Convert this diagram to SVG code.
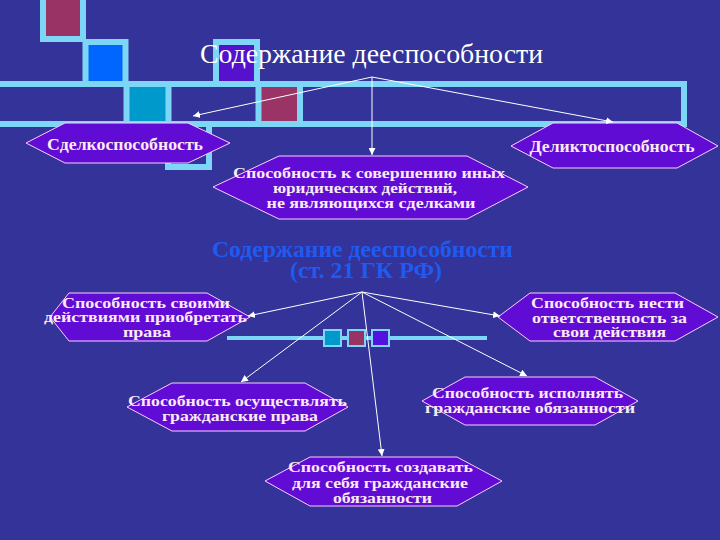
<svg xmlns="http://www.w3.org/2000/svg" width="720" height="540" viewBox="0 0 720 540">
  <defs>
    <style>
      .frame { stroke: #7dd6f5; stroke-width: 6; }
      .hex { fill: #600cd4; stroke: #ffccff; stroke-width: 1; }
      .lbl { font-family: "Liberation Serif", "DejaVu Serif", serif; font-weight: bold; font-size: 15px; fill: #fbe9f5; text-anchor: middle; }
      .lbl1 { font-size: 17px; }
      .conn { stroke: #ffffff; stroke-width: 1; fill: none; marker-end: url(#arr); }
    </style>
    <marker id="arr" viewBox="0 0 10 10" refX="10" refY="5" markerWidth="7" markerHeight="7" markerUnits="userSpaceOnUse" orient="auto">
      <path d="M0,0 L10,5 L0,10 z" fill="#ffffff"/>
    </marker>
  </defs>
  <rect x="0" y="0" width="720" height="540" fill="#333399"/>

  <g id="decor">
    <rect class="frame" x="43" y="-10" width="40" height="49" fill="#993366"/>
    <rect class="frame" x="85.5" y="42" width="40" height="42" fill="#0066ff"/>
    <rect class="frame" x="216" y="42" width="41" height="42" fill="#5511cc"/>
    <rect class="frame" x="-3" y="84" width="687" height="40" fill="none"/>
    <rect class="frame" x="126.5" y="84" width="42" height="40" fill="#0099cc"/>
    <rect class="frame" x="258.5" y="84" width="41.5" height="40" fill="#9a3366"/>
    <rect class="frame" x="168" y="124" width="41" height="43" fill="none"/>
    <line x1="227" y1="338" x2="487" y2="338" stroke="#7dd6f5" stroke-width="4"/>
    <rect x="324" y="330" width="17" height="16" fill="#0099cc" stroke="#7dd6f5" stroke-width="2"/>
    <rect x="348" y="330" width="17" height="16" fill="#993366" stroke="#7dd6f5" stroke-width="2"/>
    <rect x="372" y="330" width="17" height="16" fill="#5511dd" stroke="#7dd6f5" stroke-width="2"/>
  </g>

  <g id="title">
    <text x="371.5" y="63" font-family="Liberation Serif, DejaVu Serif, serif" font-size="28" fill="#ffffff" text-anchor="middle" textLength="343" lengthAdjust="spacingAndGlyphs">Содержание дееспособности</text>
  </g>

  <g id="subtitle">
    <text x="362.5" y="257" font-family="Liberation Serif, DejaVu Serif, serif" font-weight="bold" font-size="23" fill="#1f5bf0" text-anchor="middle" textLength="301" lengthAdjust="spacingAndGlyphs">Содержание дееспособности</text>
    <text x="366" y="278" font-family="Liberation Serif, DejaVu Serif, serif" font-weight="bold" font-size="23" fill="#1f5bf0" text-anchor="middle" textLength="152" lengthAdjust="spacingAndGlyphs">(ст. 21 ГК РФ)</text>
  </g>

  <g id="node-sdelko">
    <polygon class="hex" points="26,143 65,123 188,123 230,143 188,163 65,163"/>
    <text class="lbl lbl1" x="125" y="150" textLength="156" lengthAdjust="spacingAndGlyphs">Сделкоспособность</text>
  </g>
  <g id="node-delikto">
    <polygon class="hex" points="511,146 553,123 677,123 718,146 677,168 553,168"/>
    <text class="lbl lbl1" x="612" y="152" textLength="165" lengthAdjust="spacingAndGlyphs">Деликтоспособность</text>
  </g>
  <g id="node-inye">
    <polygon class="hex" points="213,187 279,156 467,156 528,187 467,219 279,219"/>
    <text class="lbl" x="369" y="178" textLength="272" lengthAdjust="spacingAndGlyphs">Способность к совершению иных</text>
    <text class="lbl" x="365" y="193" textLength="184" lengthAdjust="spacingAndGlyphs">юридических действий,</text>
    <text class="lbl" x="371" y="208" textLength="209" lengthAdjust="spacingAndGlyphs">не являющихся сделками</text>
  </g>
  <g id="node-priobretat">
    <polygon class="hex" points="50,317 69,293 207,293 250,317 207,341 69,341"/>
    <text class="lbl" x="146" y="308" textLength="168" lengthAdjust="spacingAndGlyphs">Способность своими</text>
    <text class="lbl" x="145.5" y="322" textLength="203" lengthAdjust="spacingAndGlyphs">действиями приобретать</text>
    <text class="lbl" x="147" y="337" textLength="48" lengthAdjust="spacingAndGlyphs">права</text>
  </g>
  <g id="node-nesti">
    <polygon class="hex" points="498,317 530,293 675,293 718,317 675,341 530,341"/>
    <text class="lbl" x="607.5" y="308" textLength="153" lengthAdjust="spacingAndGlyphs">Способность нести</text>
    <text class="lbl" x="609.5" y="323" textLength="155" lengthAdjust="spacingAndGlyphs">ответственность за</text>
    <text class="lbl" x="609.5" y="337" textLength="113" lengthAdjust="spacingAndGlyphs">свои действия</text>
  </g>
  <g id="node-osush">
    <polygon class="hex" points="127,407 172,383 305,383 348,407 305,431 172,431"/>
    <text class="lbl" x="237.5" y="406" textLength="219" lengthAdjust="spacingAndGlyphs">Способность осуществлять</text>
    <text class="lbl" x="240" y="421" textLength="156" lengthAdjust="spacingAndGlyphs">гражданские права</text>
  </g>
  <g id="node-ispoln">
    <polygon class="hex" points="422,401 465,377 595,377 638,401 595,425 465,425"/>
    <text class="lbl" x="527.5" y="398" textLength="191" lengthAdjust="spacingAndGlyphs">Способность исполнять</text>
    <text class="lbl" x="530" y="413" textLength="210" lengthAdjust="spacingAndGlyphs">гражданские обязанности</text>
  </g>
  <g id="node-sozdav">
    <polygon class="hex" points="265,481 310,457 457,457 502,481 457,506 310,506"/>
    <text class="lbl" x="380.5" y="472" textLength="185" lengthAdjust="spacingAndGlyphs">Способность создавать</text>
    <text class="lbl" x="380" y="488" textLength="176" lengthAdjust="spacingAndGlyphs">для себя гражданские</text>
    <text class="lbl" x="382.5" y="503" textLength="99" lengthAdjust="spacingAndGlyphs">обязанности</text>
  </g>

  <g id="connectors">
    <line class="conn" x1="372" y1="77" x2="193" y2="116"/>
    <line class="conn" x1="372" y1="77" x2="372" y2="155"/>
    <line class="conn" x1="372" y1="77" x2="613" y2="122"/>
    <line class="conn" x1="362" y1="292" x2="248" y2="316"/>
    <line class="conn" x1="362" y1="292" x2="500" y2="316"/>
    <line class="conn" x1="362" y1="292" x2="241" y2="382"/>
    <line class="conn" x1="362" y1="292" x2="382" y2="456"/>
    <line class="conn" x1="362" y1="292" x2="527" y2="376"/>
  </g>
</svg>
